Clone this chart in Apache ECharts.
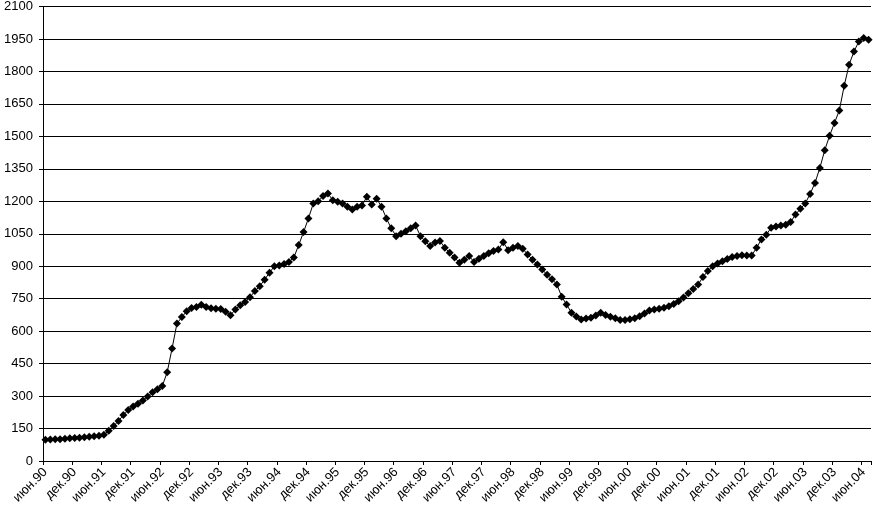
<!DOCTYPE html>
<html>
<head>
<meta charset="utf-8">
<script src="https://cdn.jsdelivr.net/npm/echarts@6/dist/echarts.min.js"></script>
<style>
  html, body { margin: 0; padding: 0; background: #fff; }
  #chart { width: 873px; height: 511px; }
</style>
</head>
<body>
<div id="chart"></div>
<script>
// months, Jun 1990 .. Jul 2004
const monthNames = ['янв', 'фев', 'мар', 'апр', 'май', 'июн', 'июл', 'авг', 'сен', 'окт', 'ноя', 'дек']
const startYear = 1990
const startMonth = 5 // июн
const values = [
  98, 99, 100, 101, 103, 105, 106, 108, 110, 112, 114, 117,
  121, 140, 162, 185, 212, 236, 252, 265, 280, 298, 318, 332,
  347, 410, 520, 635, 665, 692, 707, 712, 722, 712, 706, 704,
  702, 690, 674, 700, 720, 735, 757, 785, 808, 838, 870, 900,
  903, 910, 920, 940, 998, 1058, 1121, 1190, 1200, 1224, 1236, 1205,
  1198, 1190, 1175, 1162, 1175, 1181, 1221, 1185, 1212, 1175, 1121, 1075,
  1039, 1050, 1062, 1075, 1088, 1039, 1015, 993, 1010, 1016, 985, 962,
  940, 916, 930, 947, 919, 935, 947, 960, 970, 977, 1011, 974,
  985, 993, 981, 954, 930, 908, 885, 860, 840, 816, 759, 723,
  685, 668, 654, 658, 662, 672, 685, 675, 666, 660, 651, 652,
  655, 660, 669, 682, 695, 700, 703, 708, 715, 725, 738, 755,
  775, 795, 815, 850, 878, 900, 912, 923, 933, 943, 947, 951,
  950, 949, 985, 1024, 1045, 1078, 1084, 1088, 1092, 1104, 1139, 1165,
  1190, 1234, 1285, 1354, 1436, 1503, 1562, 1620, 1734, 1831, 1892, 1938,
  1954, 1946
]

const categories = values.map((v, i) => {
  const m = startMonth + i
  const y = startYear + Math.floor(m / 12)
  return monthNames[m % 12] + '.' + String(y % 100).padStart(2, '0')
})

const ec = echarts.init(document.getElementById('chart'))
ec.setOption({
  animation: false,
  grid: {
    left: 43,
    right: 2,
    top: 6,
    bottom: 50
  },
  xAxis: {
    type: 'category',
    data: categories,
    boundaryGap: true,
    axisLine: {lineStyle: {color: '#000', width: 1}},
    axisTick: {show: true, interval: 5, length: 4, lineStyle: {color: '#000'}},
    axisLabel: {
      interval: 5,
      rotate: 45,
      margin: 9,
      color: '#000',
      fontFamily: 'Liberation Sans, Arial, sans-serif',
      fontSize: 13
    },
    splitLine: {show: false}
  },
  yAxis: {
    type: 'value',
    min: 0,
    max: 2100,
    interval: 150,
    axisLine: {show: true, lineStyle: {color: '#000', width: 1}},
    axisTick: {show: true, length: 4, lineStyle: {color: '#000'}},
    axisLabel: {
      margin: 10,
      color: '#000',
      fontFamily: 'Liberation Sans, Arial, sans-serif',
      fontSize: 13,
      formatter: v => String(v)
    },
    splitLine: {lineStyle: {color: '#000', width: 1}}
  },
  series: [
    {
      type: 'line',
      data: values,
      symbol: 'diamond',
      symbolSize: 8,
      showAllSymbol: true,
      itemStyle: {color: '#000'},
      lineStyle: {color: '#000', width: 1}
    }
  ]
})
</script>
</body>
</html>
